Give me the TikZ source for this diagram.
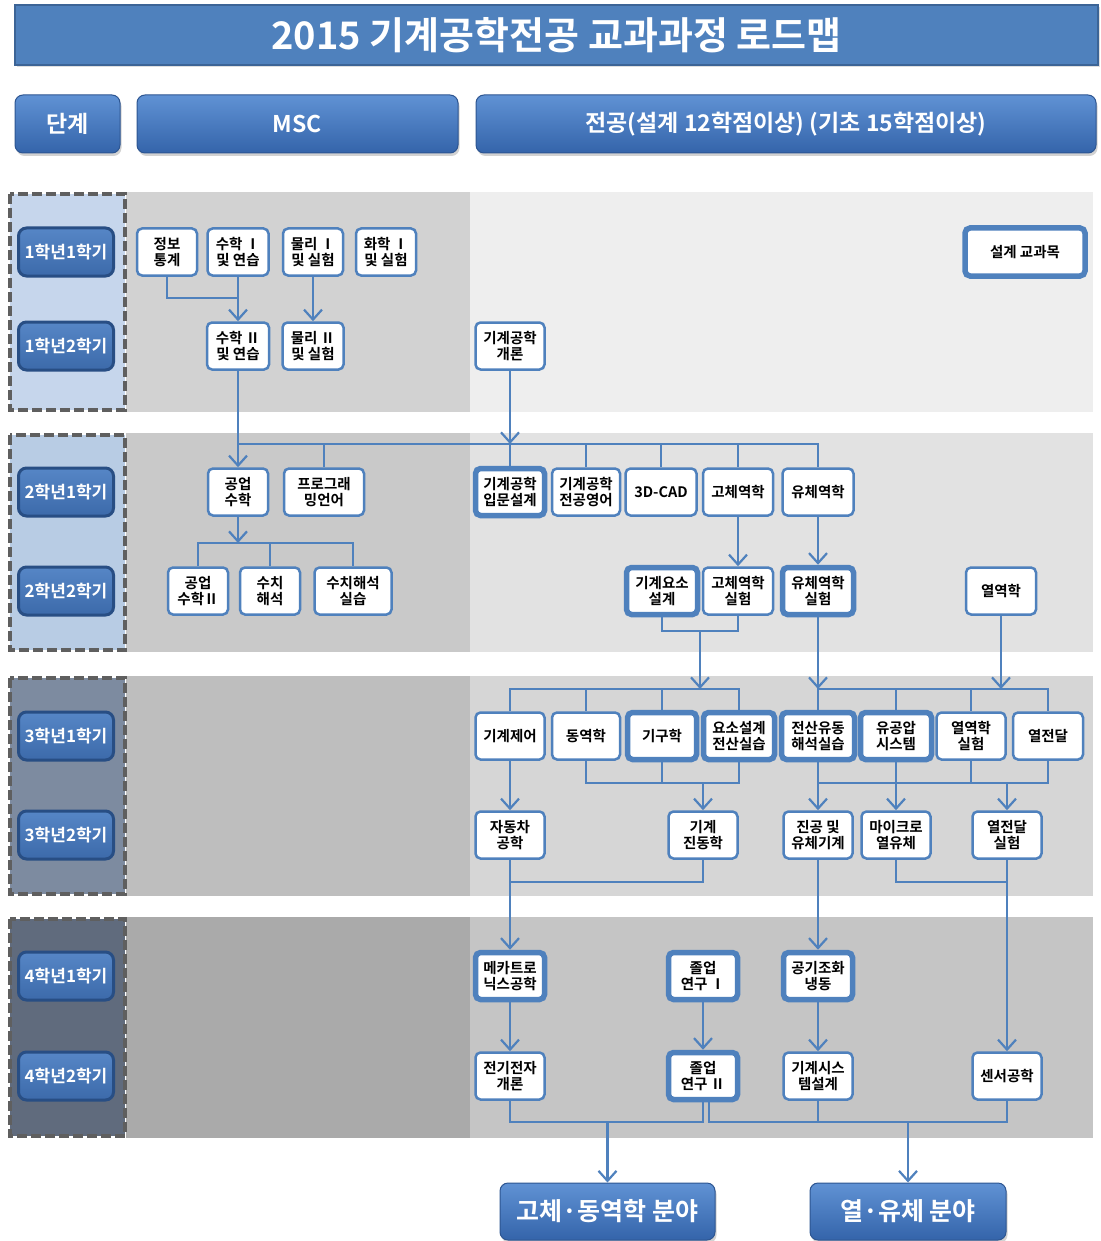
\documentclass[tikz,border=0pt]{standalone}
\usepackage{fontspec}
\setmainfont{Noto Sans CJK KR}[BoldFont=* Bold]
\usepackage{tikz}
\usetikzlibrary{arrows.meta,calc,shadows}

\definecolor{linkblue}{RGB}{79,129,189}
\definecolor{titleblue}{RGB}{79,129,189}
\definecolor{titleedge}{RGB}{60,100,150}
\definecolor{btntop}{RGB}{96,146,212}
\definecolor{btnbot}{RGB}{52,100,170}
\definecolor{btnedge}{RGB}{45,85,145}
\definecolor{termtop}{RGB}{86,134,198}
\definecolor{termbot}{RGB}{60,106,170}
\definecolor{termedge}{RGB}{40,78,132}
\definecolor{dashgrey}{RGB}{95,95,95}
\definecolor{left1}{RGB}{198,214,236}
\definecolor{left2}{RGB}{184,204,228}
\definecolor{left3}{RGB}{125,139,160}
\definecolor{left4}{RGB}{96,107,125}
\definecolor{msc1}{RGB}{210,210,210}
\definecolor{msc2}{RGB}{201,201,201}
\definecolor{msc3}{RGB}{190,190,190}
\definecolor{msc4}{RGB}{170,170,170}
\definecolor{major1}{RGB}{238,238,238}
\definecolor{major2}{RGB}{226,226,226}
\definecolor{major3}{RGB}{214,214,214}
\definecolor{major4}{RGB}{197,197,197}

\begin{document}
\begin{tikzpicture}[x=1pt,y=-1pt,
    course/.style={draw=linkblue,line width=2.5pt,fill=white,rounded corners=5pt,
      minimum width=69pt,minimum height=47pt,inner sep=1pt,align=center,
      font=\fontsize{14.5}{16.5}\selectfont\bfseries},
    design/.style={course,line width=5.5pt},
    term/.style={draw=termedge,line width=3pt,top color=termtop,bottom color=termbot,
      rounded corners=8pt,minimum width=95pt,minimum height=48pt,inner sep=1pt,text=white,
      font=\fontsize{17}{19}\selectfont\bfseries},
    headbtn/.style={draw=btnedge,line width=1pt,top color=btntop,bottom color=btnbot,
      rounded corners=8pt,minimum height=58pt,text=white,
      font=\fontsize{23}{25}\selectfont\bfseries,
      drop shadow={shadow xshift=1.5pt,shadow yshift=-3pt,opacity=0.35}},
    field/.style={headbtn,minimum height=57pt,font=\fontsize{25}{27}\selectfont\bfseries},
    stagebox/.style={draw=dashgrey,line width=4pt,dash pattern=on 10pt off 4pt},
    link/.style={draw=linkblue,line width=2.2pt},
    flow/.style={link,-{Straight Barb[length=10pt,width=18pt]}}]

  \fill[white] (0,0) rectangle (1100,1241);
  \useasboundingbox (0,0) rectangle (1100,1241);

  \node[draw=titleedge,line width=2pt,fill=titleblue,text=white,minimum width=1083pt,
    minimum height=60pt,font=\fontsize{38}{40}\selectfont\bfseries,
    drop shadow={shadow xshift=1.5pt,shadow yshift=-2pt,opacity=0.25}] (title) at (556.5,35)
    {2015 기계공학전공 교과과정 로드맵};

  \node[headbtn,minimum width=105pt] (stage) at (67.5,124) {단계};
  \node[headbtn,minimum width=321pt] (msc) at (297.5,124) {MSC};
  \node[headbtn,minimum width=620pt] (major) at (786,124) {전공(설계 12학점이상) (기초 15학점이상)};

  \foreach \n/\ya/\yb in {1/192/412,2/433/652,3/676/896,4/917/1138} {
    \fill[msc\n] (126,\ya) rectangle (470,\yb);
    \fill[major\n] (470,\ya) rectangle (1093,\yb);
    \draw[stagebox,fill=left\n] (10,\ya+2) rectangle (125,\yb-2);
  }

  \foreach \a/\b/\y in {1/1/252,1/2/346,2/1/492,2/2/591,3/1/736,3/2/835,4/1/976,4/2/1076}
    \node[term] (term\a\b) at (66,\y) {\a{}학년\b{}학기};

  \node[course,minimum width=60pt] (info) at (167,252) {정보\\통계};
  \node[course,minimum width=61pt] (math1) at (238,252) {수학 Ⅰ\\및 연습};
  \node[course,minimum width=60pt] (phys1) at (313,252) {물리 Ⅰ\\및 실험};
  \node[course,minimum width=60pt] (chem1) at (386,252) {화학 Ⅰ\\및 실험};
  \node[design,minimum width=120pt,minimum height=48pt] (legend) at (1025,252) {설계 교과목};

  \node[course,minimum width=62pt] (math2) at (238,346) {수학 Ⅱ\\및 연습};
  \node[course,minimum width=61pt] (phys2) at (313,346) {물리 Ⅱ\\및 실험};
  \node[course] (intro) at (510,346) {기계공학\\개론};

  \node[course,minimum width=60pt] (engmath) at (238,492) {공업\\수학};
  \node[course,minimum width=80pt] (prog) at (324,492) {프로그래\\밍언어};
  \node[design] (design1) at (510,492) {기계공학\\입문설계};
  \node[course,minimum width=68pt] (english) at (586,492) {기계공학\\전공영어};
  \node[course,minimum width=71pt] (cad) at (661,492) {3D-CAD};
  \node[course,minimum width=70pt] (solid) at (738,492) {고체역학};
  \node[course,minimum width=71pt] (fluid) at (818,492) {유체역학};

  \node[course,minimum width=60pt] (engmath2) at (198,591) {공업\\수학Ⅱ};
  \node[course,minimum width=60pt] (numeric) at (270,591) {수치\\해석};
  \node[course,minimum width=77pt] (numlab) at (353,591) {수치해석\\실습};
  \node[design,minimum width=71pt] (element) at (662,591) {기계요소\\설계};
  \node[course,minimum width=70pt] (solidlab) at (738,591) {고체역학\\실험};
  \node[design,minimum width=71pt] (fluidlab) at (818,591) {유체역학\\실험};
  \node[course,minimum width=70pt] (thermo) at (1001,591) {열역학};

  \node[course] (control) at (510,736) {기계제어};
  \node[course,minimum width=68pt] (dynamics) at (586,736) {동역학};
  \node[design] (kinem) at (662,736) {기구학};
  \node[design,minimum width=71pt] (elemcad) at (739,736) {요소설계\\전산실습};
  \node[design,minimum width=73pt] (cfd) at (818,736) {전산유동\\해석실습};
  \node[design,minimum width=71pt] (hydro) at (896,736) {유공압\\시스템};
  \node[course] (thermolab) at (971,736) {열역학\\실험};
  \node[course,minimum width=70pt] (heat) at (1048,736) {열전달};

  \node[course] (car) at (510,835) {자동차\\공학};
  \node[course] (vib) at (703,835) {기계\\진동학};
  \node[course] (vac) at (818,835) {진공 및\\유체기계};
  \node[course] (micro) at (896,835) {마이크로\\열유체};
  \node[course] (heatlab) at (1007,835) {열전달\\실험};

  \node[design] (mecha) at (510,976) {메카트로\\닉스공학};
  \node[design] (grad1) at (703,976) {졸업\\연구 Ⅰ};
  \node[design] (hvac) at (818,976) {공기조화\\냉동};

  \node[course] (elec) at (510,1076) {전기전자\\개론};
  \node[design] (grad2) at (703,1076) {졸업\\연구 Ⅱ};
  \node[course] (mechsys) at (818,1076) {기계시스\\템설계};
  \node[course] (sensor) at (1007,1076) {센서공학};

  \node[field,minimum width=215pt] (solidfield) at (607.5,1211.5) {고체·동역학 분야};
  \node[field,minimum width=196pt] (thermfield) at (908,1211.5) {열·유체 분야};

  \coordinate (busZ) at (0,298);
  \coordinate (busA) at (0,444);
  \coordinate (busB) at (0,543);
  \coordinate (busC) at (0,631);
  \coordinate (busD) at (0,689);
  \coordinate (busE) at (0,783);
  \coordinate (busF) at (0,882);
  \coordinate (busG) at (0,1122);
  \coordinate (mA) at ($(element.south)!0.5!(solidlab.south)$);

  \draw[link] (info.south) |- (math1.south |- busZ);
  \draw[flow] (math1) -- (math2);
  \draw[flow] (phys1) -- (phys2);

  \draw[link] (math2.south) |- (fluid.north |- busA) -- (fluid.north);
  \draw[flow] (math2.south |- busA) -- (engmath.north);
  \draw[flow] (intro.south) -- (intro.south |- busA);
  \foreach \c in {prog,design1,english,cad,solid}
    \draw[link] (\c.north |- busA) -- (\c.north);

  \draw[flow] (engmath.south) -- (engmath.south |- busB);
  \draw[link] (engmath2.north) |- (numlab.north |- busB) -- (numlab.north);
  \draw[link] (numeric.north) -- (numeric.north |- busB);

  \draw[flow] (solid) -- (solidlab);
  \draw[flow] (fluid) -- (fluidlab);

  \draw[link] (element.south) |- (solidlab.south |- busC) -- (solidlab.south);
  \draw[flow] (mA |- busC) -- (mA |- busD);
  \draw[flow] (fluidlab.south) -- (fluidlab.south |- busD);
  \draw[flow] (thermo.south) -- (thermo.south |- busD);

  \draw[link] (control.north) |- (elemcad.north |- busD) -- (elemcad.north);
  \foreach \c in {dynamics,kinem}
    \draw[link] (\c.north |- busD) -- (\c.north);
  \draw[link] (cfd.north) |- (heat.north |- busD) -- (heat.north);
  \foreach \c in {hydro,thermolab}
    \draw[link] (\c.north |- busD) -- (\c.north);

  \draw[flow] (control) -- (car);
  \draw[link] (dynamics.south) |- (elemcad.south |- busE) -- (elemcad.south);
  \draw[link] (kinem.south) -- (kinem.south |- busE);
  \draw[flow] (vib.north |- busE) -- (vib.north);
  \draw[link] (cfd.south) |- (heat.south |- busE) -- (heat.south);
  \foreach \c in {hydro,thermolab}
    \draw[link] (\c.south) -- (\c.south |- busE);
  \foreach \c in {vac,micro,heatlab}
    \draw[flow] (\c.north |- busE) -- (\c.north);

  \draw[link] (vib.south) |- (car.south |- busF);
  \draw[flow] (car.south) -- (mecha.north);
  \draw[flow] (vac) -- (hvac);
  \draw[link] (micro.south) |- (heatlab.south |- busF);
  \draw[flow] (heatlab.south) -- (sensor.north);

  \draw[flow] (mecha) -- (elec);
  \draw[flow] (grad1) -- (grad2);
  \draw[flow] (hvac) -- (mechsys);

  \draw[link] (elec.south) |- (grad2.south |- busG) -- (grad2.south);
  \draw[flow] (solidfield.north |- busG) -- (solidfield.north);
  \draw[link] ([xshift=6pt]grad2.south) |- (sensor.south |- busG) -- (sensor.south);
  \draw[link] (mechsys.south) -- (mechsys.south |- busG);
  \draw[flow] (thermfield.north |- busG) -- (thermfield.north);
\end{tikzpicture}
\end{document}
